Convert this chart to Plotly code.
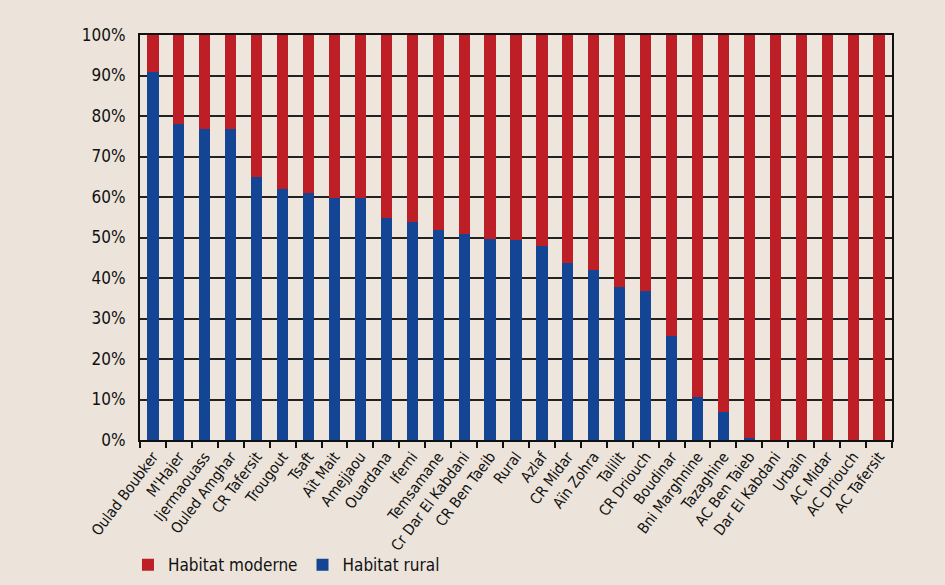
import plotly.graph_objects as go

categories = ["Oulad Boubker", "M'Hajer", "Ijermaouass", "Ouled Amghar", "CR Tafersit",
              "Trougout", "Tsaft", "Aït Mait", "Amejjaou", "Ouardana", "Iferni",
              "Temsamane", "Cr Dar El Kabdani", "CR Ben Taeib", "Rural", "Azlaf",
              "CR Midar", "Aïn Zohra", "Talilit", "CR Driouch", "Boudinar",
              "Bni Marghnine", "Tazaghine", "AC Ben Taieb", "Dar El Kabdani", "Urbain",
              "AC Midar", "AC Driouch", "AC Tafersit"]

habitat_rural = [90.9, 78.1, 76.8, 76.8, 65.0, 62.0, 61.0, 59.8, 59.8, 54.9, 53.9,
                 51.9, 50.9, 49.7, 49.4, 48.0, 43.8, 41.9, 37.9, 36.9, 25.8,
                 10.7, 6.8, 0.4, 0, 0, 0, 0, 0]
habitat_moderne = [round(100 - v, 1) for v in habitat_rural]

y_ticks = [0, 10, 20, 30, 40, 50, 60, 70, 80, 90, 100]
y_tick_labels = [f"{t}%" for t in y_ticks]

FONT = "Liberation Sans Narrow, DejaVu Sans Condensed, Arial Narrow, sans-serif"
RED = "#be1f26"
BLUE = "#144494"
BG = "#ece4da"

fig = go.Figure()
fig.add_trace(go.Bar(x=categories, y=habitat_rural, name="Habitat rural",
                     marker=dict(color=BLUE, line=dict(width=0))))
fig.add_trace(go.Bar(x=categories, y=habitat_moderne, name="Habitat moderne",
                     marker=dict(color=RED, line=dict(width=0))))

fig.update_layout(
    barmode="stack",
    bargap=0.57,
    width=945, height=585,
    margin=dict(l=140, r=53, t=35, b=145, autoexpand=False),
    paper_bgcolor=BG,
    plot_bgcolor="#eee6dd",
    font=dict(family=FONT, color="#111111"),
    showlegend=True,
    legend=dict(orientation="h", traceorder="reversed", x=-0.016, xanchor="left",
                y=-0.309, yanchor="middle", font=dict(size=17, family=FONT),
                bgcolor="rgba(0,0,0,0)", itemwidth=30),
    xaxis=dict(tickangle=-53, tickfont=dict(size=15, family=FONT), automargin=False,
               showline=True, linecolor="#111111", linewidth=2, mirror=True,
               ticks="outside", ticklen=6, tickcolor="#111111", tickwidth=1.5,
               tickson="boundaries", showgrid=False),
    yaxis=dict(range=[0, 100], tickvals=y_ticks, ticktext=y_tick_labels, automargin=False,
               tickfont=dict(size=17, family=FONT),
               showline=True, linecolor="#111111", linewidth=2, mirror=True,
               showgrid=True, gridcolor="#222222", gridwidth=1.5, zeroline=False,
               ticks="", ticklabelstandoff=9),
)

fig.write_html("out.html",
               config={"displayModeBar": False},
               post_script="document.body.style.margin='0';document.body.style.background='%s';" % BG)
